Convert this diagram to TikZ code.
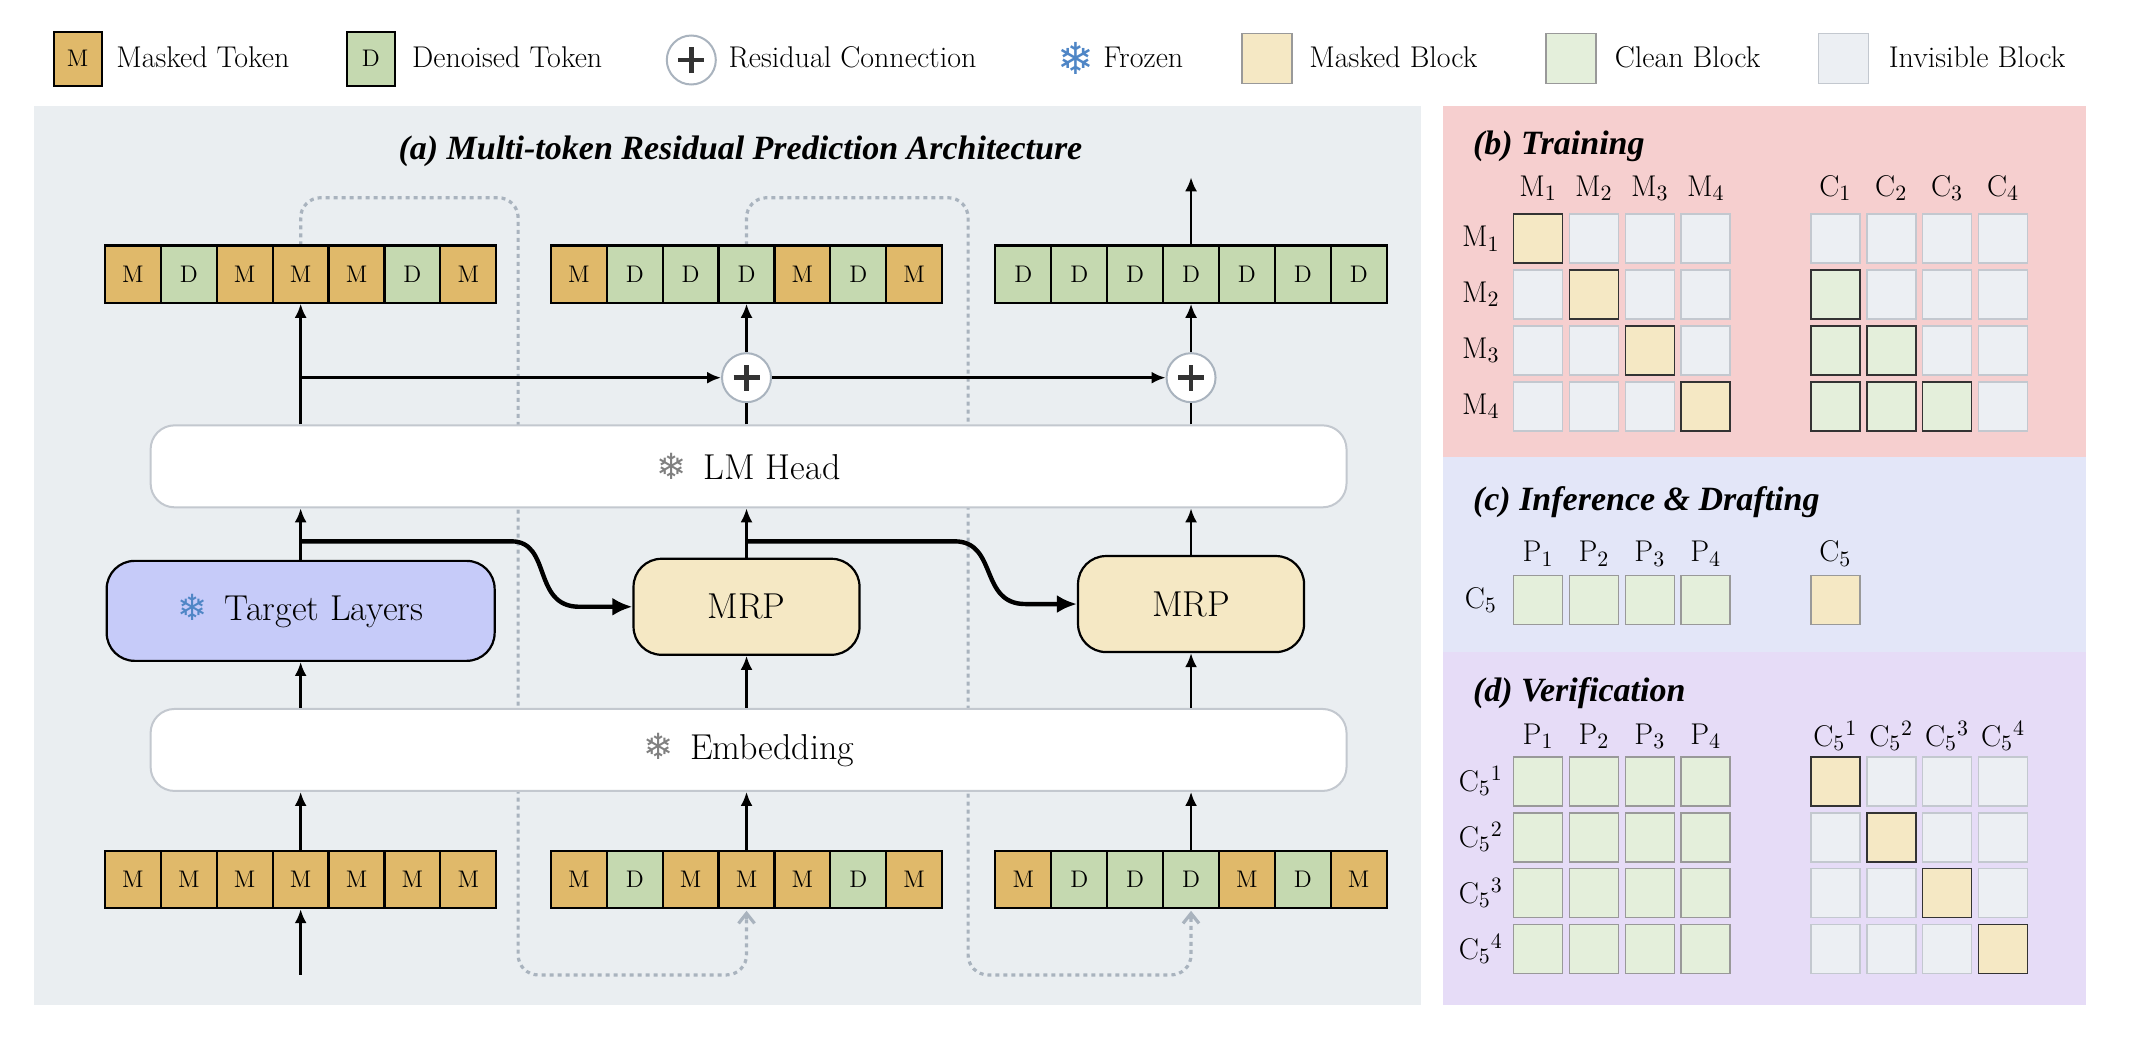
\documentclass[tikz,border=0pt]{standalone}
\usepackage{fontspec}
\usetikzlibrary{arrows.meta,calc}
\newfontfamily\djv{DejaVu Sans}
\newfontfamily\ttlfont{Liberation Serif}
\definecolor{mtok}{HTML}{E0B96A}
\definecolor{dtok}{HTML}{C5D9B0}
\definecolor{mblk}{HTML}{F5E8C4}
\definecolor{cblk}{HTML}{E4EFDB}
\definecolor{iblk}{HTML}{ECEFF3}
\definecolor{iedge}{HTML}{C3C8CF}
\definecolor{panelA}{HTML}{EAEEF1}
\definecolor{panelB}{HTML}{F6CFCF}
\definecolor{panelC}{HTML}{E3E6F8}
\definecolor{panelD}{HTML}{E6DCF7}
\definecolor{tgt}{HTML}{C6CBF9}
\definecolor{dotc}{HTML}{A9B3BE}
\definecolor{snow}{HTML}{4F86C6}
\newcommand{\flk}[1]{{\djv\color{#1}\char"2744}}
\tikzset{
  tokbase/.style={draw=black,line width=1.1pt,minimum width=28pt,minimum height=28.6pt,inner sep=0pt,font=\fontsize{12}{14}\selectfont},
  tokM/.style={tokbase,fill=mtok},
  tokD/.style={tokbase,fill=dtok},
  cell/.style={minimum width=24.5pt,minimum height=24.5pt,inner sep=0pt,line width=0.8pt},
  cI/.style={cell,fill=iblk,draw=iedge},
  cM/.style={cell,fill=mblk,draw=black!80},
  cC/.style={cell,fill=cblk,draw=black!80},
  cCl/.style={cell,fill=cblk,draw=black!40},
  cMl/.style={cell,fill=mblk,draw=black!40},
  wide/.style={draw=iedge,line width=1pt,fill=white,rounded corners=12pt,minimum width=598pt,minimum height=41pt,font=\fontsize{18}{21}\selectfont},
  mrp/.style={draw=black,line width=1.1pt,fill=mblk,rounded corners=14pt,minimum width=113pt,minimum height=48pt,font=\fontsize{18}{21}\selectfont},
  arr/.style={-{Latex[length=7pt,width=6pt]},line width=1.3pt},
  barr/.style={-{Latex[length=10pt,width=9pt]},line width=2.2pt},
  dot/.style={dotc,line width=1.6pt,dash pattern=on 2pt off 2pt,rounded corners=10pt},
  plus/.style={circle,draw=dotc,fill=white,line width=1pt,minimum size=24.5pt,inner sep=0pt,
    path picture={\draw[line width=2.4pt,black!80] ($(path picture bounding box.center)+(-6.5pt,0)$) -- ++(13pt,0) ($(path picture bounding box.center)+(0,-6.5pt)$) -- ++(0,13pt);}},
  lab/.style={font=\fontsize{15}{18}\selectfont,inner sep=1pt},
  ttl/.style={font=\fontsize{17}{20}\ttlfont\bfseries\itshape,inner sep=0pt},
  leg/.style={font=\fontsize{15}{18}\selectfont,anchor=west,inner sep=0pt}
}
\newcommand{\tokrow}[4]{%
  \foreach \l [count=\i] in {#4} {\node[tok\l] (#1\i) at ({#2+20.5+(\i-1)*41},#3) {\l};}}
\begin{document}
\begin{tikzpicture}[x=0.6818pt,y=-0.6818pt]
\useasboundingbox[fill=white] (0,0) rectangle (1568,760);
% panels
\fill[panelA] (25,78) rectangle (1042,737);
\fill[panelB] (1058,78) rectangle (1530,335);
\fill[panelC] (1058,335) rectangle (1530,478);
\fill[panelD] (1058,478) rectangle (1530,737);
% legend
\node[tokM,minimum height=27pt,minimum width=24pt] (lm) at (57,43) {M};
\node[leg] (lmt) at (85,42) {Masked Token};
\node[tokD,minimum height=27pt,minimum width=24pt] (ld) at (272,43) {D};
\node[leg] (ldt) at (302,42) {Denoised Token};
\node[plus] (lp) at (507,44) {};
\node[leg] (lpt) at (534,42) {Residual Connection};
\node[inner sep=0pt,font=\fontsize{22}{22}\selectfont] (lf) at (789,43) {\flk{snow}};
\node[leg] (lft) at (809,42) {Frozen};
\node[cMl,minimum width=25pt,minimum height=25pt] (lmb) at (929,43) {};
\node[leg] (lmbt) at (960,42) {Masked Block};
\node[cCl,minimum width=25pt,minimum height=25pt] (lcb) at (1152,43) {};
\node[leg] (lcbt) at (1184,42) {Clean Block};
\node[cI,minimum width=25pt,minimum height=25pt] (lib) at (1352,43) {};
\node[leg] (libt) at (1385,42) {Invisible Block};
% (a)
\node[ttl] (ta) at (543,111) {(a) Multi-token Residual Prediction Architecture};
% dotted loops
\draw[dot] (220.5,180) -- (220.5,145) -- (380,145) -- (380,715) -- (547.5,715) -- (547.5,672);
\draw[dot] (547.5,180) -- (547.5,145) -- (710,145) -- (710,715) -- (873.5,715) -- (873.5,672);
\draw[dotc,line width=1.6pt,-{Straight Barb[length=5pt,width=8pt]}] (547.5,674) -- (547.5,668);
\draw[dotc,line width=1.6pt,-{Straight Barb[length=5pt,width=8pt]}] (873.5,674) -- (873.5,668);
% token rows
\tokrow{ta}{77}{201}{M,D,M,M,M,D,M}
\tokrow{tb}{404}{201}{M,D,D,D,M,D,M}
\tokrow{tc}{730}{201}{D,D,D,D,D,D,D}
\tokrow{ba}{77}{645}{M,M,M,M,M,M,M}
\tokrow{bb}{404}{645}{M,D,M,M,M,D,M}
\tokrow{bc}{730}{645}{M,D,D,D,M,D,M}
% boxes
\node[wide] (lmh) at (549,342) {\flk{gray}\, LM Head};
\node[wide] (emb) at (549,550) {\flk{gray}\, Embedding};
\node[draw=black,line width=1.1pt,fill=tgt,rounded corners=14pt,minimum width=194pt,minimum height=50pt,font=\fontsize{18}{21}\selectfont] (tl) at (220.5,448) {\flk{snow}\, Target Layers};
\node[mrp] (m1) at (547.5,445) {MRP};
\node[mrp] (m2) at (873.5,443) {MRP};
\node[plus] (p1) at (547.5,277) {};
\node[plus] (p2) at (873.5,277) {};
\coordinate (s0) at (220.5,715);
\coordinate (top) at (873.5,130);
\coordinate (j1) at (220.5,277);
\coordinate (k1) at (220.5,397);
\coordinate (k2) at (547.5,397);
% arrows
\draw[arr] (s0) -- (ba4.south);
\draw[arr] (ba4.north) -- (emb.south -| ba4);
\draw[arr] (bb4.north) -- (emb.south -| bb4);
\draw[arr] (bc4.north) -- (emb.south -| bc4);
\draw[arr] (emb.north -| tl) -- (tl.south);
\draw[arr] (emb.north -| m1) -- (m1.south);
\draw[arr] (emb.north -| m2) -- (m2.south);
\draw[arr] (tl.north) -- (lmh.south -| tl);
\draw[arr] (m1.north) -- (lmh.south -| m1);
\draw[arr] (m2.north) -- (lmh.south -| m2);
\draw[arr] (lmh.north -| ta4) -- (ta4.south);
\draw[line width=1.3pt] (lmh.north -| p1) -- (p1.south);
\draw[line width=1.3pt] (lmh.north -| p2) -- (p2.south);
\draw[arr] (p1.north) -- (tb4.south);
\draw[arr] (p2.north) -- (tc4.south);
\draw[arr] (tc4.north) -- (top);
\draw[arr] (j1) -- (p1.west);
\draw[arr] (p1.east) -- (p2.west);
\draw[barr] (k1) -- (375,397) .. controls (405,397) and (390,445) .. (425,445) -- (m1.west);
\draw[barr] (k2) -- (700,397) .. controls (732,397) and (718,443) .. (752,443) -- (m2.west);
% (b)
\node[ttl,anchor=west] (tb) at (1080,107) {(b) Training};
\foreach \r in {1,...,4} {
  \node[lab] (bM\r) at ({1128+(\r-1)*41},138) {M$_{\r}$};
  \node[lab] (bC\r) at ({1346+(\r-1)*41},138) {C$_{\r}$};
  \node[lab] (bR\r) at (1086,{175+(\r-1)*41}) {M$_{\r}$};
  \foreach \c in {1,...,4} {
    \pgfmathtruncatemacro{\L}{\c==\r ? 1 : 0}
    \pgfmathtruncatemacro{\R}{\c<\r ? 1 : 0}
    \ifnum\L=1 \node[cM] (bl\r\c) at ({1128+(\c-1)*41},{175+(\r-1)*41}) {};
    \else \node[cI] (bl\r\c) at ({1128+(\c-1)*41},{175+(\r-1)*41}) {}; \fi
    \ifnum\R=1 \node[cC] (br\r\c) at ({1346+(\c-1)*41},{175+(\r-1)*41}) {};
    \else \node[cI] (br\r\c) at ({1346+(\c-1)*41},{175+(\r-1)*41}) {}; \fi
  }
}
% (c)
\node[ttl,anchor=west] (tcc) at (1080,368) {(c) Inference \& Drafting};
\node[lab] (cR) at (1086,440) {C$_{5}$};
\node[lab] (cC5) at (1346,406) {C$_{5}$};
\node[cMl] (cm) at (1346,440) {};
\foreach \c in {1,...,4} {
  \node[lab] (cP\c) at ({1128+(\c-1)*41},406) {P$_{\c}$};
  \node[cCl] (cc\c) at ({1128+(\c-1)*41},440) {};
}
% (d)
\node[ttl,anchor=west] (td) at (1080,508) {(d) Verification};
\foreach \r in {1,...,4} {
  \node[lab] (dP\r) at ({1128+(\r-1)*41},540) {P$_{\r}$};
  \node[lab] (dC\r) at ({1346+(\r-1)*41},540) {C$_{5}$$^{\r}$};
  \node[lab] (dR\r) at (1086,{573+(\r-1)*41}) {C$_{5}$$^{\r}$};
  \foreach \c in {1,...,4} {
    \node[cCl] (dl\r\c) at ({1128+(\c-1)*41},{573+(\r-1)*41}) {};
    \ifnum\c=\r \node[cM] (dr\r\c) at ({1346+(\c-1)*41},{573+(\r-1)*41}) {};
    \else \node[cI] (dr\r\c) at ({1346+(\c-1)*41},{573+(\r-1)*41}) {}; \fi
  }
}
\end{tikzpicture}
\end{document}
